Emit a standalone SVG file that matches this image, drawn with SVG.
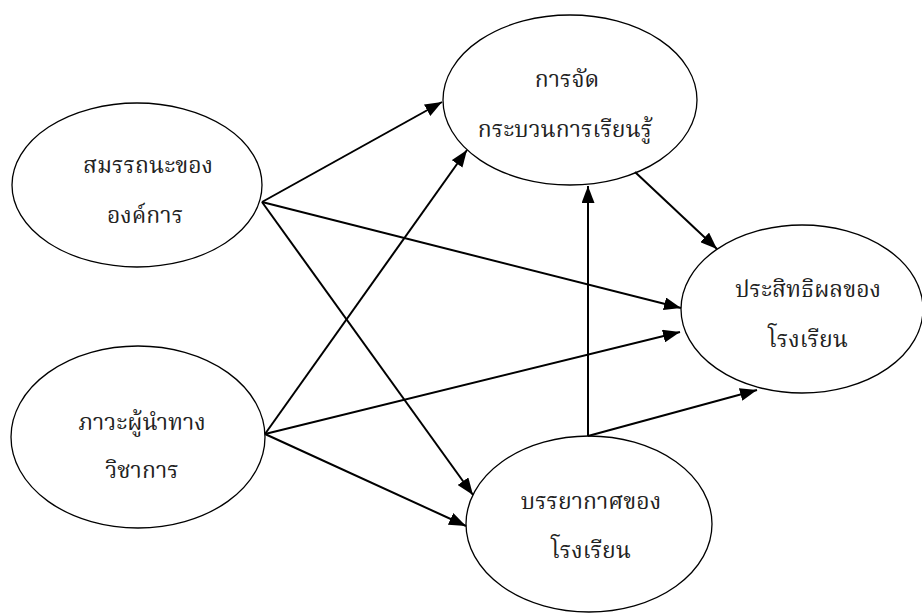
<svg xmlns="http://www.w3.org/2000/svg" width="922" height="613" viewBox="0 0 922 613">
  <style>
    .node ellipse { fill: #ffffff; stroke: #000000; stroke-width: 1.3; }
    .node text { font-family: "Noto Serif Thai", "Liberation Serif", "Noto Sans Thai", serif; font-size: 23px; fill: #222222; text-anchor: middle; }
    .edges line { stroke: #000000; stroke-width: 2; marker-end: url(#arrow); }
  </style>
  <defs>
    <marker id="arrow" viewBox="0 0 17 13" refX="17" refY="6.5" markerWidth="17" markerHeight="13" markerUnits="userSpaceOnUse" orient="auto">
      <path d="M0,0 L17,6.5 L0,13 Z" fill="#000000"/>
    </marker>
  </defs>

  <rect width="922" height="613" fill="#ffffff"/>

  <!-- nodes -->
  <g id="competency" class="node">
    <ellipse cx="137" cy="185" rx="125" ry="82"/>
    <text x="148" y="173">สมรรถนะของ</text>
    <text x="145" y="223">องค์การ</text>
  </g>
  <g id="leadership" class="node">
    <ellipse cx="138" cy="437" rx="127" ry="91"/>
    <text x="142" y="430">ภาวะผู้นำทาง</text>
    <text x="142" y="478">วิชาการ</text>
  </g>
  <g id="learning" class="node">
    <ellipse cx="570" cy="100" rx="127" ry="85"/>
    <text x="567" y="87">การจัด</text>
    <text x="565" y="137">กระบวนการเรียนรู้</text>
  </g>
  <g id="effectiveness" class="node">
    <ellipse cx="802" cy="309" rx="121" ry="84"/>
    <text x="808" y="297">ประสิทธิผลของ</text>
    <text x="808" y="347">โรงเรียน</text>
  </g>
  <g id="climate" class="node">
    <ellipse cx="589" cy="524" rx="123" ry="88"/>
    <text x="591" y="509">บรรยากาศของ</text>
    <text x="591" y="558">โรงเรียน</text>
  </g>

  <!-- connectors -->
  <g id="edges" class="edges">
    <line x1="262" y1="202" x2="442" y2="102"/>
    <line x1="262" y1="202" x2="681" y2="308"/>
    <line x1="262" y1="202" x2="473" y2="495"/>
    <line x1="265" y1="434" x2="467" y2="150"/>
    <line x1="265" y1="434" x2="680" y2="332"/>
    <line x1="265" y1="434" x2="466" y2="526"/>
    <line x1="635" y1="172" x2="717" y2="249"/>
    <line x1="588" y1="436" x2="588" y2="186"/>
    <line x1="588" y1="436" x2="757" y2="390"/>
  </g>
</svg>
